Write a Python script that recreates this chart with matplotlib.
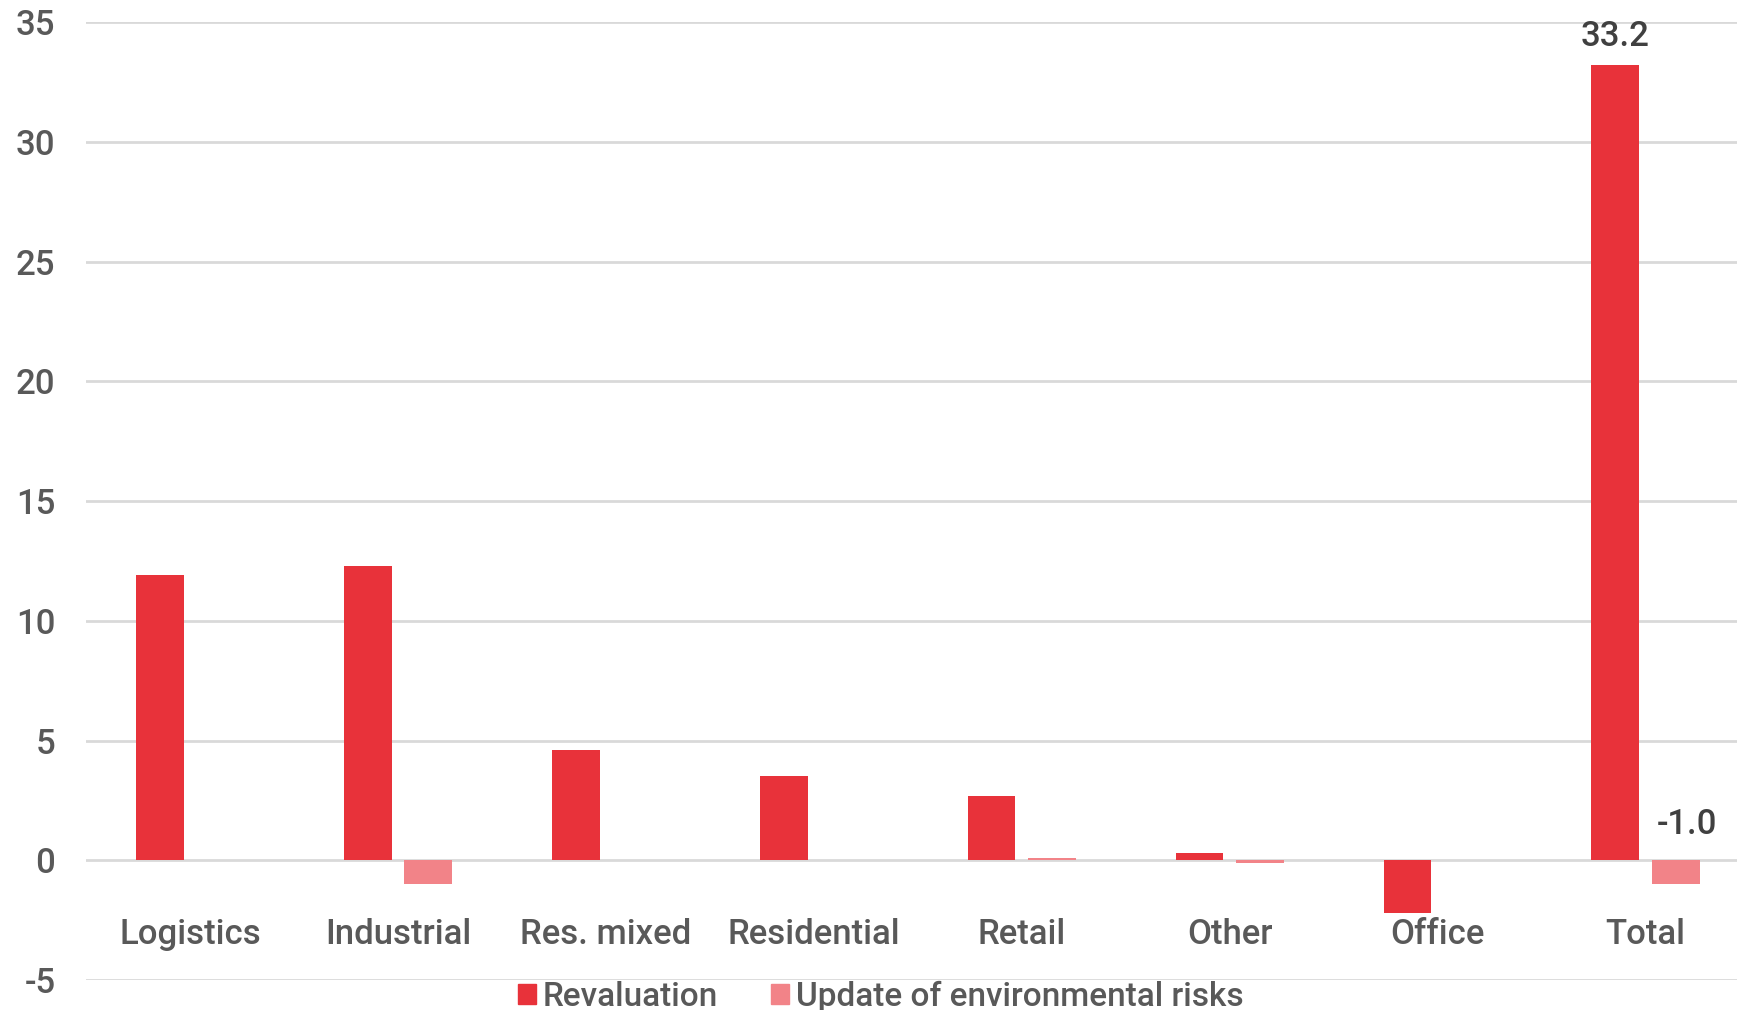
import numpy as np
import matplotlib.pyplot as plt
from matplotlib.patches import Patch

categories = ["Logistics", "Industrial", "Res. mixed", "Residential", "Retail", "Other", "Office", "Total"]
revaluation = [11.9, 12.3, 4.6, 3.5, 2.7, 0.3, -2.2, 33.2]
env_risks = [0.0, -1.0, 0.0, 0.0, 0.1, -0.1, 0.0, -1.0]
series_names = ["Revaluation", "Update of environmental risks"]
y_ticks = [-5, 0, 5, 10, 15, 20, 25, 30, 35]

RED = "#E8323A"
PINK = "#F28388"
GRID = "#D9D9D9"
TEXT = "#595959"

plt.rcParams["font.family"] = ["Roboto", "DejaVu Sans"]
plt.rcParams["font.weight"] = 500

fig = plt.figure(figsize=(17.37, 10.10), dpi=100)
ax = fig.add_axes([0.0495, 0.0297, 0.9505, 0.9485])

x = np.arange(len(categories))
w = 0.23
off = 0.145
ax.bar(x - off, revaluation, w, color=RED, zorder=3)
ax.bar(x + off, env_risks, w, color=PINK, zorder=3)

# plot area runs a little past the right edge of the image
ax.set_xlim(-0.5, len(categories) - 0.56)
ax.set_ylim(y_ticks[0], y_ticks[-1])
ax.set_yticks(y_ticks)
ax.set_yticklabels([str(t) for t in y_ticks], fontsize=25, color=TEXT, fontweight=500)
ax.tick_params(axis="y", length=0, pad=22)
ax.set_xticks([])
ax.grid(axis="y", color=GRID, linewidth=2, zorder=0)
for s in ax.spines.values():
    s.set_visible(False)

# category labels sit inside the plot between 0 and -5
for i, c in enumerate(categories):
    ax.text(i, -3.1, c, ha="center", va="center", fontsize=25, color=TEXT, fontweight=500)

# data labels on the total group
last = len(categories) - 1
ax.text(last - off, revaluation[last] + 0.5, f"{revaluation[last]:.1f}",
        ha="center", va="bottom", fontsize=25, color="#404040", fontweight=500)
ax.text(last + off + 0.055, 1.5, f"{env_risks[last]:.1f}",
        ha="center", va="center", fontsize=25, color="#404040", fontweight=500)

handles = [Patch(color=RED), Patch(color=PINK)]
fig.legend(handles, series_names, loc="center", bbox_to_anchor=(0.507, 0.013),
           ncol=2, frameon=False, prop={"size": 24, "weight": 500},
           handlelength=0.55, handleheight=0.55,
           handletextpad=0.2, columnspacing=1.6, labelcolor=TEXT, borderpad=0)

fig.savefig("out.png", dpi=100)
